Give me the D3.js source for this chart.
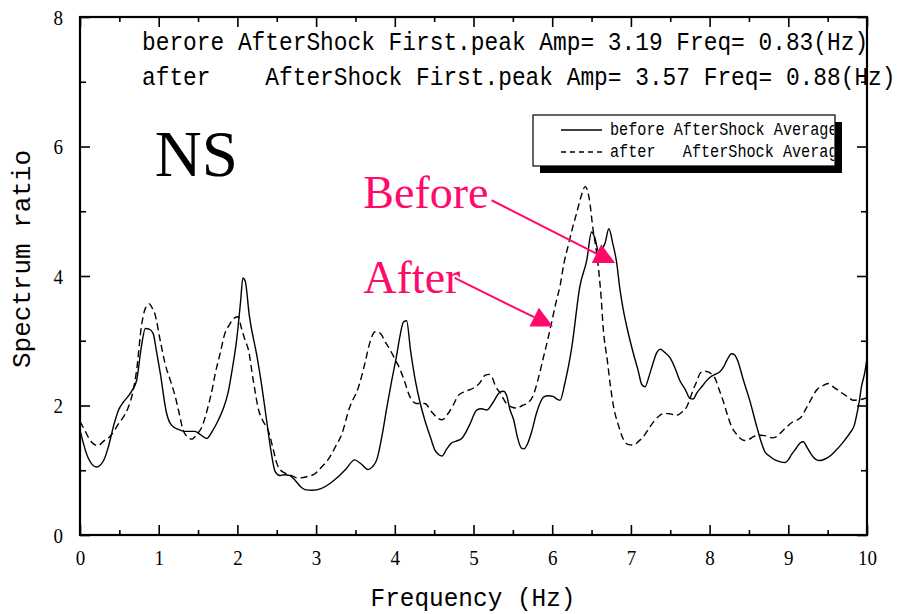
<!DOCTYPE html>
<html>
<head>
<meta charset="utf-8">
<script src="https://cdn.jsdelivr.net/npm/d3@7/dist/d3.min.js"></script>
<style>
  html, body { margin: 0; padding: 0; background: #fff; }
  svg { display: block; }
  svg text { white-space: pre; }
</style>
</head>
<body>
<svg id="chart" width="903" height="614"></svg>
<script>
// ---- data -------------------------------------------------------------
// Spectrum ratio (NS component), averaged before and after the aftershock
const beforeFreq = [0,0.1,0.21,0.3,0.36,0.43,0.49,0.55,0.61,0.67,0.72,0.78,0.83,0.88,0.93,0.97,1.02,1.1,1.16,1.25,1.33,1.46,1.53,1.61,1.68,1.76,1.82,1.88,1.94,1.99,2.04,2.07,2.1,2.15,2.25,2.31,2.37,2.42,2.48,2.54,2.6,2.66,2.73,2.8,2.86,2.95,3.07,3.18,3.28,3.38,3.49,3.57,3.66,3.72,3.77,3.84,3.9,3.96,4.02,4.07,4.11,4.15,4.2,4.26,4.32,4.38,4.45,4.51,4.56,4.6,4.66,4.72,4.78,4.85,4.95,5.04,5.1,5.17,5.25,5.34,5.38,5.42,5.46,5.51,5.56,5.61,5.64,5.68,5.74,5.8,5.85,5.89,5.95,6.01,6.06,6.1,6.16,6.25,6.35,6.44,6.5,6.54,6.59,6.63,6.67,6.72,6.77,6.82,6.86,6.9,6.97,7.03,7.09,7.14,7.18,7.23,7.28,7.33,7.37,7.43,7.5,7.56,7.62,7.69,7.75,7.79,7.84,7.9,7.96,8.01,8.07,8.13,8.18,8.22,8.28,8.32,8.36,8.43,8.51,8.6,8.66,8.7,8.76,8.83,8.9,8.96,9.0,9.04,9.1,9.15,9.19,9.24,9.28,9.32,9.36,9.4,9.46,9.53,9.6,9.66,9.72,9.78,9.84,9.87,9.9,9.93,9.97,10.0];
const beforeRatio = [1.62,1.2,1.05,1.15,1.36,1.7,1.93,2.05,2.14,2.25,2.39,2.91,3.19,3.18,3.11,2.85,2.5,1.88,1.7,1.63,1.6,1.6,1.55,1.49,1.6,1.78,1.95,2.19,2.6,3.01,3.6,3.97,3.92,3.4,2.75,2.3,1.78,1.35,0.98,0.92,0.93,0.92,0.85,0.75,0.7,0.69,0.72,0.8,0.9,1.02,1.16,1.1,1.01,1.06,1.16,1.55,1.98,2.38,2.75,3.1,3.29,3.31,2.85,2.39,2.05,1.78,1.52,1.31,1.24,1.22,1.33,1.42,1.45,1.49,1.7,1.93,1.95,1.93,2.05,2.21,2.22,2.16,1.95,1.78,1.5,1.34,1.33,1.39,1.6,1.88,2.05,2.13,2.15,2.14,2.1,2.08,2.34,2.91,3.83,4.25,4.68,4.6,4.38,4.42,4.5,4.73,4.5,4.2,3.8,3.5,3.1,2.81,2.55,2.32,2.29,2.45,2.65,2.82,2.87,2.82,2.73,2.58,2.39,2.25,2.11,2.1,2.2,2.29,2.38,2.44,2.48,2.52,2.6,2.7,2.8,2.78,2.68,2.39,2.08,1.67,1.42,1.29,1.22,1.16,1.13,1.12,1.16,1.24,1.34,1.42,1.44,1.35,1.27,1.2,1.16,1.15,1.17,1.22,1.3,1.38,1.47,1.57,1.7,1.86,2.05,2.29,2.5,2.73];

const afterFreq = [0,0.06,0.12,0.18,0.23,0.3,0.38,0.44,0.49,0.55,0.61,0.67,0.72,0.78,0.83,0.88,0.92,0.95,1.02,1.08,1.15,1.21,1.26,1.31,1.36,1.42,1.48,1.55,1.62,1.68,1.72,1.78,1.84,1.9,1.96,2.01,2.05,2.1,2.14,2.2,2.27,2.33,2.39,2.45,2.5,2.55,2.6,2.68,2.77,2.88,2.99,3.07,3.15,3.24,3.33,3.42,3.54,3.62,3.68,3.75,3.81,3.88,3.94,4.0,4.07,4.13,4.19,4.28,4.38,4.47,4.53,4.6,4.68,4.74,4.81,4.9,5.0,5.08,5.15,5.2,5.23,5.28,5.34,5.42,5.48,5.55,5.62,5.68,5.76,5.83,5.89,5.94,5.99,6.05,6.1,6.15,6.21,6.26,6.31,6.36,6.42,6.47,6.52,6.56,6.59,6.62,6.65,6.7,6.74,6.78,6.84,6.9,6.96,7.03,7.1,7.16,7.23,7.31,7.37,7.43,7.5,7.58,7.65,7.71,7.75,7.79,7.84,7.88,7.93,7.98,8.03,8.07,8.12,8.17,8.22,8.28,8.34,8.39,8.44,8.49,8.56,8.64,8.72,8.79,8.85,8.92,8.98,9.06,9.12,9.17,9.22,9.26,9.31,9.36,9.43,9.51,9.58,9.66,9.75,9.83,9.9,9.95,10.0];
const afterRatio = [1.75,1.62,1.48,1.4,1.38,1.45,1.52,1.62,1.72,1.82,1.96,2.2,2.55,3.22,3.5,3.57,3.5,3.42,3.0,2.65,2.38,2.14,1.88,1.62,1.52,1.48,1.55,1.67,1.95,2.25,2.5,2.8,3.11,3.25,3.35,3.37,3.2,3.0,2.86,2.4,1.93,1.75,1.62,1.35,1.11,1.0,0.96,0.92,0.88,0.9,0.95,1.05,1.16,1.35,1.57,1.95,2.29,2.65,2.96,3.14,3.12,2.98,2.86,2.72,2.55,2.35,2.14,2.03,2.03,1.9,1.82,1.78,1.88,2.0,2.16,2.22,2.27,2.35,2.47,2.48,2.45,2.3,2.19,2.03,1.98,1.96,2.0,2.03,2.16,2.45,2.75,3.0,3.27,3.6,3.85,4.2,4.5,4.75,4.97,5.2,5.38,5.2,4.71,4.4,4.09,3.7,3.17,2.7,2.3,1.98,1.7,1.49,1.4,1.39,1.45,1.52,1.65,1.78,1.85,1.88,1.87,1.85,1.9,1.98,2.1,2.24,2.38,2.5,2.53,2.52,2.48,2.42,2.25,2.08,1.88,1.67,1.56,1.49,1.46,1.47,1.52,1.54,1.53,1.5,1.52,1.6,1.67,1.75,1.78,1.83,1.94,2.03,2.14,2.24,2.3,2.34,2.28,2.21,2.14,2.08,2.09,2.1,2.12];

const xTicks = [0,1,2,3,4,5,6,7,8,9,10];
const yTicks = [0,2,4,6,8];
const headerLines = [
  "berore AfterShock First.peak Amp= 3.19 Freq= 0.83(Hz)",
  "after    AfterShock First.peak Amp= 3.57 Freq= 0.88(Hz)"
];
const legendLabels = ["before AfterShock Average", "after   AfterShock Average"];

// ---- layout -----------------------------------------------------------
const svg = d3.select("#chart");
const plotL = 80, plotR = 867, plotT = 17, plotB = 535;
const x = d3.scaleLinear().domain([0, 10]).range([plotL, plotR]);
const y = d3.scaleLinear().domain([0, 8]).range([plotB, plotT]);
const pink = "#ff0a6c";
const mono = "'Liberation Mono', 'DejaVu Sans Mono', monospace";
const serif = "'Liberation Serif', 'DejaVu Serif', serif";

const defs = svg.append("defs");
defs.append("clipPath").attr("id", "plotClip")
  .append("rect").attr("x", plotL).attr("y", plotT)
  .attr("width", plotR - plotL).attr("height", plotB - plotT);

// ---- curves -----------------------------------------------------------
const line = d3.line().x(d => x(d[0])).y(d => y(d[1])).curve(d3.curveMonotoneX);
const beforePts = beforeFreq.map((f, i) => [f, beforeRatio[i]]);
const afterPts = afterFreq.map((f, i) => [f, afterRatio[i]]);

const curves = svg.append("g").attr("clip-path", "url(#plotClip)");
curves.append("path").datum(afterPts).attr("d", line)
  .attr("fill", "none").attr("stroke", "#000").attr("stroke-width", 1.4)
  .attr("stroke-dasharray", "7,4");
curves.append("path").datum(beforePts).attr("d", line)
  .attr("fill", "none").attr("stroke", "#000").attr("stroke-width", 1.4);

// ---- axes (ticks pointing inward on all four sides) --------------------
function styleAxis(g) {
  g.select(".domain").remove();
  g.selectAll(".tick line").attr("stroke", "#000").attr("stroke-width", 1.6);
}
function styleLabels(g) {
  g.selectAll(".tick text").attr("font-family", serif).attr("font-size", 22)
    .attr("fill", "#000").attr("textLength", d => String(d).length * 9.5)
    .attr("lengthAdjust", "spacingAndGlyphs");
}
const minorX = d3.range(0.5, 10, 1);
const minorY = [1, 3, 5, 7];

svg.append("g").attr("transform", `translate(0,${plotB})`)
  .call(d3.axisBottom(x).tickValues(xTicks).tickSize(-10).tickPadding(14).tickFormat(d3.format("d")))
  .call(styleAxis).call(styleLabels);
svg.append("g").attr("transform", `translate(0,${plotB})`)
  .call(d3.axisBottom(x).tickValues(minorX).tickSize(-5).tickFormat(""))
  .call(styleAxis);
svg.append("g").attr("transform", `translate(0,${plotT})`)
  .call(d3.axisTop(x).tickValues(xTicks).tickSize(-10).tickFormat(""))
  .call(styleAxis);
svg.append("g").attr("transform", `translate(0,${plotT})`)
  .call(d3.axisTop(x).tickValues(minorX).tickSize(-5).tickFormat(""))
  .call(styleAxis);

svg.append("g").attr("transform", `translate(${plotL},0)`)
  .call(d3.axisLeft(y).tickValues(yTicks).tickSize(-10).tickPadding(17).tickFormat(d3.format("d")))
  .call(styleAxis).call(styleLabels);
svg.append("g").attr("transform", `translate(${plotL},0)`)
  .call(d3.axisLeft(y).tickValues(minorY).tickSize(-6).tickFormat(""))
  .call(styleAxis);
svg.append("g").attr("transform", `translate(${plotR},0)`)
  .call(d3.axisRight(y).tickValues(yTicks).tickSize(-10).tickFormat(""))
  .call(styleAxis);
svg.append("g").attr("transform", `translate(${plotR},0)`)
  .call(d3.axisRight(y).tickValues(minorY).tickSize(-6).tickFormat(""))
  .call(styleAxis);

// frame
svg.append("rect").attr("x", plotL).attr("y", plotT)
  .attr("width", plotR - plotL).attr("height", plotB - plotT)
  .attr("fill", "none").attr("stroke", "#000").attr("stroke-width", 2.2);

// axis titles
svg.append("text").attr("x", (plotL + plotR) / 2 - 0.5).attr("y", 606)
  .attr("text-anchor", "middle").attr("font-family", mono).attr("font-size", 25)
  .attr("textLength", 205).attr("lengthAdjust", "spacingAndGlyphs")
  .text("Frequency (Hz)");
svg.append("text").attr("transform", "translate(30,259) rotate(-90)")
  .attr("text-anchor", "middle").attr("font-family", mono).attr("font-size", 25)
  .attr("textLength", 218).attr("lengthAdjust", "spacingAndGlyphs")
  .text("Spectrum ratio");

// ---- header text ------------------------------------------------------
const charW = 13.7;
headerLines.forEach((t, i) => {
  svg.append("text").attr("x", 142).attr("y", 50 + i * 35)
    .attr("font-family", mono).attr("font-size", 26)
    .attr("textLength", t.length * charW).attr("lengthAdjust", "spacingAndGlyphs")
    .attr("fill", "#000").text(t);
});

// ---- legend -----------------------------------------------------------
const lg = { x: 533, y: 115, w: 302, h: 51, shadow: 7 };
svg.append("rect").attr("x", lg.x + lg.shadow).attr("y", lg.y + lg.shadow)
  .attr("width", lg.w).attr("height", lg.h).attr("fill", "#000");
svg.append("rect").attr("x", lg.x).attr("y", lg.y)
  .attr("width", lg.w).attr("height", lg.h).attr("fill", "#fff")
  .attr("stroke", "#000").attr("stroke-width", 1.2);
defs.append("clipPath").attr("id", "legendClip")
  .append("rect").attr("x", lg.x + 1).attr("y", lg.y + 1)
  .attr("width", lg.w - 2).attr("height", lg.h - 2);
const legendG = svg.append("g").attr("clip-path", "url(#legendClip)");
legendLabels.forEach((t, i) => {
  const ly = lg.y + 15 + i * 22;
  legendG.append("line").attr("x1", 561).attr("x2", 602).attr("y1", ly).attr("y2", ly)
    .attr("stroke", "#000").attr("stroke-width", 1.3)
    .attr("stroke-dasharray", i === 0 ? null : "5,4");
  legendG.append("text").attr("x", 610).attr("y", ly + 5)
    .attr("font-family", mono).attr("font-size", 18)
    .attr("textLength", t.length * 9.1).attr("lengthAdjust", "spacingAndGlyphs")
    .text(t);
});

// ---- annotations ------------------------------------------------------
svg.append("text").attr("x", x(0.95)).attr("y", y(5.54))
  .attr("font-family", serif).attr("font-size", 65).attr("fill", "#000").text("NS");

function arrow(x0, y0, x1, y1) {
  const X0 = x(x0), Y0 = y(y0), X1 = x(x1), Y1 = y(y1);
  const a = Math.atan2(Y1 - Y0, X1 - X0);
  const len = 21, half = 10.5;
  const bx = X1 - len * Math.cos(a), by = Y1 - len * Math.sin(a);
  svg.append("line").attr("x1", X0).attr("y1", Y0).attr("x2", bx).attr("y2", by)
    .attr("stroke", pink).attr("stroke-width", 2);
  const pts = [
    [X1, Y1],
    [bx + half * Math.sin(a), by - half * Math.cos(a)],
    [bx - half * Math.sin(a), by + half * Math.cos(a)]
  ];
  svg.append("polygon").attr("points", pts.map(p => p.join(",")).join(" ")).attr("fill", pink);
}

svg.append("text").attr("x", x(3.6)).attr("y", y(5.05))
  .attr("font-family", serif).attr("font-size", 46).attr("fill", pink).text("Before");
svg.append("text").attr("x", x(3.6)).attr("y", y(3.74))
  .attr("font-family", serif).attr("font-size", 46).attr("fill", pink).text("After");
arrow(5.23, 5.17, 6.80, 4.20);
arrow(4.76, 3.97, 6.01, 3.22);
</script>
</body>
</html>
